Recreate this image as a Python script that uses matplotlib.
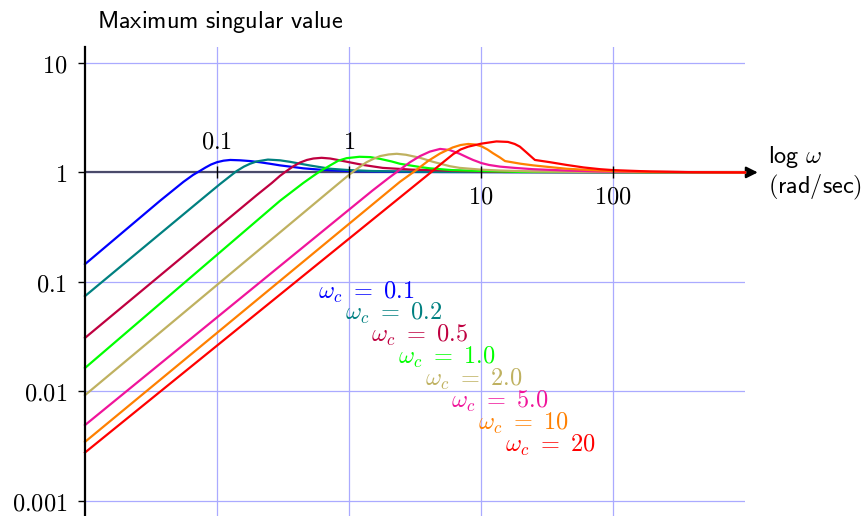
import numpy as np
import matplotlib
matplotlib.use("Agg")
import matplotlib.pyplot as plt

plt.rcParams['mathtext.fontset'] = 'cm'

# sensitivity-like gain curves, one per crossover frequency
wc_labels = ['0.1', '0.2', '0.5', '1.0', '2.0', '5.0', '10', '20']
colors = ['#0000ff', '#008080', '#bf0040', '#00ff00', '#bfb160', '#f0149a', '#ff8000', '#ff0000']

w_01 = [0.01, 0.037, 0.0557, 0.066, 0.074, 0.082, 0.09, 0.1, 0.112, 0.126, 0.15, 0.178, 0.21,
        0.252, 0.3, 0.357, 0.45, 0.6, 0.8, 1.0, 1.5, 3.0, 1000]
g_01 = [0.145, 0.55, 0.82, 0.95, 1.03, 1.11, 1.18, 1.24, 1.28, 1.30, 1.29, 1.27, 1.24,
        1.20, 1.16, 1.13, 1.09, 1.06, 1.04, 1.03, 1.02, 1.01, 1.0]

w_02 = [0.01, 0.074, 0.105, 0.125, 0.141, 0.16, 0.178, 0.2, 0.243, 0.3, 0.357, 0.5, 0.72,
        1.0, 1.5, 2.43, 5.0, 1000]
g_02 = [0.074, 0.55, 0.78, 0.92, 1.03, 1.13, 1.20, 1.26, 1.31, 1.29, 1.25, 1.16, 1.08,
        1.05, 1.03, 1.02, 1.01, 1.0]

w_05 = [0.01, 0.2, 0.26, 0.3, 0.34, 0.38, 0.425, 0.48, 0.537, 0.62, 0.72, 0.85, 1.0, 1.28,
        1.8, 3.0, 4.1, 7.0, 15, 1000]
g_05 = [0.0307, 0.62, 0.80, 0.93, 1.04, 1.14, 1.23, 1.30, 1.34, 1.36, 1.34, 1.29, 1.24, 1.17,
        1.10, 1.06, 1.05, 1.03, 1.01, 1.0]

w_1 = [0.01, 0.3, 0.45, 0.537, 0.6, 0.66, 0.72, 0.83, 0.96, 1.2, 1.45, 1.72, 2.1,
       2.43, 3.45, 4.1, 6.0, 10, 20, 1000]
g_1 = [0.0163, 0.55, 0.80, 0.93, 1.02, 1.09, 1.16, 1.28, 1.35, 1.39, 1.38, 1.33, 1.26,
       1.20, 1.12, 1.09, 1.05, 1.03, 1.01, 1.0]

w_2 = [0.01, 0.8, 1.0, 1.15, 1.36, 1.55, 1.72, 2.0, 2.3, 2.7, 3.45, 4.33, 5.8, 6.9, 10,
       14, 25, 60, 1000]
g_2 = [0.0092, 0.76, 0.95, 1.08, 1.24, 1.34, 1.41, 1.46, 1.48, 1.45, 1.36, 1.25, 1.14, 1.10,
       1.06, 1.04, 1.02, 1.01, 1.0]

w_5 = [0.01, 1.5, 2.0, 2.43, 2.9, 3.45, 4.1, 4.9, 5.8, 6.9, 8.0, 8.7, 9.5, 10,
       11.5, 13.9, 18, 24.8, 44.6, 80, 200, 1000]
g_5 = [0.0049, 0.68, 0.89, 1.06, 1.24, 1.41, 1.55, 1.64, 1.60, 1.48, 1.36, 1.30, 1.25,
       1.22, 1.17, 1.13, 1.10, 1.07, 1.04, 1.02, 1.01, 1.0]

w_10 = [0.01, 2.43, 3.16, 4.0, 4.9, 6.1, 7.0, 8.0, 9.0, 10.1, 11.2, 12.3, 13.9, 15.2,
        20, 24.8, 33, 44.6, 80, 100, 200, 1000]
g_10 = [0.00344, 0.82, 1.03, 1.28, 1.49, 1.69, 1.78, 1.82, 1.80, 1.73, 1.62, 1.50, 1.37,
        1.27, 1.20, 1.16, 1.12, 1.08, 1.04, 1.03, 1.01, 1.0]

w_20 = [0.01, 4.17, 5.0, 6.16, 7.0, 8.0, 10, 13.1, 16, 18, 19.7, 22, 25.6,
        33.3, 44.6, 60, 80, 100, 190, 400, 1000]
g_20 = [0.00275, 1.0, 1.2, 1.47, 1.62, 1.72, 1.83, 1.92, 1.90, 1.82, 1.72, 1.53, 1.30,
        1.24, 1.17, 1.11, 1.07, 1.05, 1.02, 1.005, 1.0]

freqs = [w_01, w_02, w_05, w_1, w_2, w_5, w_10, w_20]
gains = [g_01, g_02, g_05, g_1, g_2, g_5, g_10, g_20]

x_ticks = [0.1, 1, 10, 100]
x_ticklabels = ['0.1', '1', '10', '100']
y_ticks = [0.001, 0.01, 0.1, 1, 10]
y_ticklabels = ['0.001', '0.01', '0.1', '1', '10']

fig = plt.figure(figsize=(8.66, 5.16), dpi=100)
ax = fig.add_axes([85 / 866, 0.0, 660 / 866, 469.3 / 516])
ax.set_xscale('log')
ax.set_yscale('log')
ax.set_xlim(0.01, 1000)
ax.set_ylim(0.000723, 14.1)

# light blue grid
for xv in x_ticks:
    ax.axvline(xv, color='#aaaaff', lw=0.9, zorder=1)
for yv in y_ticks:
    ax.axhline(yv, color='#aaaaff', lw=0.9, zorder=1)

for sp in ['top', 'right', 'bottom']:
    ax.spines[sp].set_visible(False)
ax.spines['left'].set_linewidth(1.6)
ax.spines['left'].set_zorder(5)

ax.set_xticks([])
ax.minorticks_off()
ax.set_yticks(y_ticks)
ax.set_yticklabels(['$%s$' % s for s in y_ticklabels], fontsize=17.5)
ax.tick_params(axis='y', which='major', direction='out', length=5, width=1, pad=8)
ax.tick_params(axis='y', which='minor', left=False)

# horizontal axis through gain 1, black arrow head at the end
ax.plot([0.01, 1000], [1, 1], color='#4a4a6a', lw=1.6, zorder=2)
ax.annotate('', xy=(1250, 1), xytext=(990, 1), annotation_clip=False,
            arrowprops=dict(arrowstyle='-|>', color='k', lw=1.6,
                            mutation_scale=17, shrinkA=0, shrinkB=0), zorder=2)
ax.plot(x_ticks, np.ones(len(x_ticks)), ls='none', marker='|', ms=8, mew=1, color='k', zorder=6)
for xv, lab in zip(x_ticks, x_ticklabels):
    if xv < 5:
        ax.annotate('$%s$' % lab, (xv, 1), xytext=(0, 22), textcoords='offset points',
                    ha='center', va='center', fontsize=17.5)
    else:
        ax.annotate('$%s$' % lab, (xv, 1), xytext=(0, -17), textcoords='offset points',
                    ha='center', va='center', fontsize=17.5)

for w, g, c in zip(freqs, gains, colors):
    ax.plot(w, g, color=c, lw=1.6, zorder=4, clip_on=False)

# staircase of labels
lx, ly = 0.582, 0.0807
for i, (lab, c) in enumerate(zip(wc_labels, colors)):
    ax.text(lx * 1.593 ** i, ly * 0.631 ** i, r'$\omega_c\ =\ %s$' % lab, color=c,
            fontsize=17.5, ha='left', va='center')

fig.text(97 / 866, 1 - 22 / 516, r'$\mathsf{Maximum\ singular\ value}$', fontsize=17.5,
         ha='left', va='center')
fig.text(768 / 866, 1 - 157 / 516, r'$\mathsf{log}\ \omega$', fontsize=17.5, ha='left', va='center')
fig.text(768 / 866, 1 - 187 / 516, r'$\mathsf{(rad/sec)}$', fontsize=17.5, ha='left', va='center')

fig.savefig('out.png', dpi=100)
